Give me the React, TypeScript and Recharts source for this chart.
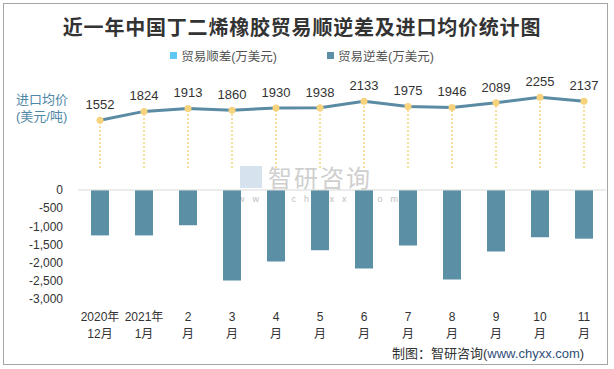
import React from "react";
import {
  Bar,
  ComposedChart,
  ErrorBar,
  LabelList,
  Legend,
  Line,
  ReferenceLine,
  XAxis,
  YAxis,
} from "recharts";

const categories = [
  "2020年\n12月",
  "2021年\n1月",
  "2\n月",
  "3\n月",
  "4\n月",
  "5\n月",
  "6\n月",
  "7\n月",
  "8\n月",
  "9\n月",
  "10\n月",
  "11\n月",
];
const importPrice = [1552, 1824, 1913, 1860, 1930, 1938, 2133, 1975, 1946, 2089, 2255, 2137];
const tradeSurplus = [0, 0, 0, 0, 0, 0, 0, 0, 0, 0, 0, 0];
const tradeDeficit = [-1250, -1250, -970, -2490, -1970, -1660, -2160, -1530, -2460, -1690, -1300, -1340];
const deficitTicks = [-3000, -2500, -2000, -1500, -1000, -500, 0];
const legendOrder = ["贸易顺差(万美元)", "贸易逆差(万美元)"];
// 价格的虚线落点（隐藏价格轴上的值）
const dropBase = 92;

const FONT = "'Liberation Sans', 'Noto Sans CJK SC', sans-serif";
const SURPLUS_COLOR = "#5fc8f2";
const DEFICIT_COLOR = "#5b8fa6";
const LINE_COLOR = "#5b8aa3";
const DOT_COLOR = "#f6d37c";

const data = categories.map((name, i) => ({
  name,
  surplus: tradeSurplus[i],
  deficit: tradeDeficit[i],
  price: importPrice[i],
  drop: [importPrice[i] - dropBase, 0],
}));

function CategoryTick(props: any) {
  const { x, y, payload } = props;
  const [a, b] = String(payload.value).split("\n");
  return (
    <text x={x} textAnchor="middle" fontSize={12} fill="#333" fontFamily={FONT}>
      <tspan x={x} y={y + 22}>{a}</tspan>
      <tspan x={x} y={y + 39}>{b}</tspan>
    </text>
  );
}

function LegendContent(props: any) {
  const items = (props.payload || [])
    .filter((p: any) => p.type !== "none")
    .sort((a: any, b: any) => legendOrder.indexOf(a.value) - legendOrder.indexOf(b.value));
  return (
    <div style={{ display: "flex", justifyContent: "center", gap: 50, fontFamily: FONT, fontSize: 12.5, color: "#555" }}>
      {items.map((p: any) => (
        <span key={p.value} style={{ display: "flex", alignItems: "center", gap: 4 }}>
          <span style={{ width: 7, height: 7, background: p.color, display: "inline-block" }} />
          {p.value}
        </span>
      ))}
    </div>
  );
}

export default function App() {
  return (
    <div style={{ position: "absolute", left: 0, top: 0, width: 614, height: 369, background: "#fff", fontFamily: FONT }}>
      <div style={{ position: "absolute", left: 3, top: 3, width: 603, height: 360, border: "1px solid #a6a6a6" }} />
      <div
        style={{
          position: "absolute",
          top: 12,
          left: 0,
          width: 604,
          textAlign: "center",
          fontSize: 20,
          fontWeight: 700,
          letterSpacing: 0.8,
          color: "#333",
          fontFamily: "'Noto Sans CJK SC', sans-serif",
        }}
      >
        近一年中国丁二烯橡胶贸易顺逆差及进口均价统计图
      </div>
      <div style={{ position: "absolute", left: 16, top: 91, fontSize: 13, lineHeight: "17px", color: "#4f87a6" }}>
        进口均价
        <br />
        (美元/吨)
      </div>
      {/* 水印 */}
      <div style={{ position: "absolute", left: 240, top: 166, width: 22, height: 22, background: "#c5d7e8", opacity: 0.7 }} />
      <div style={{ position: "absolute", left: 268, top: 165, fontSize: 24, lineHeight: 1, color: "#cfcfcf", fontFamily: "'Noto Sans CJK SC', sans-serif", letterSpacing: 2 }}>
        智研咨询
      </div>
      <div style={{ position: "absolute", left: 238, top: 195, fontSize: 9, lineHeight: 1, color: "#bdbdbd", letterSpacing: 8 }}>
        www.chyxx.com
      </div>
      <ComposedChart
        width={614}
        height={369}
        data={data}
        margin={{ top: 81, right: 8, bottom: 30, left: 8 }}
        style={{ position: "absolute", left: 0, top: 0 }}
      >
        <XAxis
          dataKey="name"
          axisLine={false}
          tickLine={false}
          tickSize={0}
          tickMargin={0}
          height={40}
          interval={0}
          tick={<CategoryTick />}
        />
        <YAxis
          yAxisId="left"
          width={70}
          domain={[-3000, 3000]}
          ticks={deficitTicks}
          interval={0}
          axisLine={false}
          tickLine={false}
          tickSize={0}
          tickMargin={15}
          tick={{ fontSize: 12, fill: "#333", fontFamily: FONT }}
          tickFormatter={(v: number) => v.toLocaleString("en-US")}
        />
        <YAxis yAxisId="right" orientation="right" hide domain={[-3913, 2753]} />
        <ReferenceLine yAxisId="left" y={0} stroke="#d9d9d9" />
        <Legend
          verticalAlign="middle"
          layout="horizontal"
          wrapperStyle={{ top: 46, left: 0, width: 604 }}
          content={<LegendContent />}
        />
        <Bar
          yAxisId="left"
          dataKey="surplus"
          name="贸易顺差(万美元)"
          stackId="t"
          fill={SURPLUS_COLOR}
          barSize={18}
          isAnimationActive={false}
        />
        <Bar
          yAxisId="left"
          dataKey="deficit"
          name="贸易逆差(万美元)"
          stackId="t"
          fill={DEFICIT_COLOR}
          barSize={18}
          isAnimationActive={false}
        />
        <Line
          yAxisId="right"
          dataKey="price"
          legendType="none"
          stroke={LINE_COLOR}
          strokeWidth={3}
          dot={{ r: 3.5, fill: DOT_COLOR, stroke: DOT_COLOR, strokeWidth: 0 }}
          activeDot={false}
          isAnimationActive={false}
        >
          <ErrorBar dataKey="drop" direction="y" width={0} stroke={DOT_COLOR} strokeWidth={1.5} strokeDasharray="2 2" />
          <LabelList dataKey="price" position="top" offset={11} fontSize={13} fill="#333" fontFamily={FONT} />
        </Line>
      </ComposedChart>
      <div style={{ position: "absolute", left: 392, top: 343, fontSize: 13, color: "#333" }}>
        制图：智研咨询(<span style={{ color: "#2f4f7a" }}>www.chyxx.com</span>)
      </div>
    </div>
  );
}
